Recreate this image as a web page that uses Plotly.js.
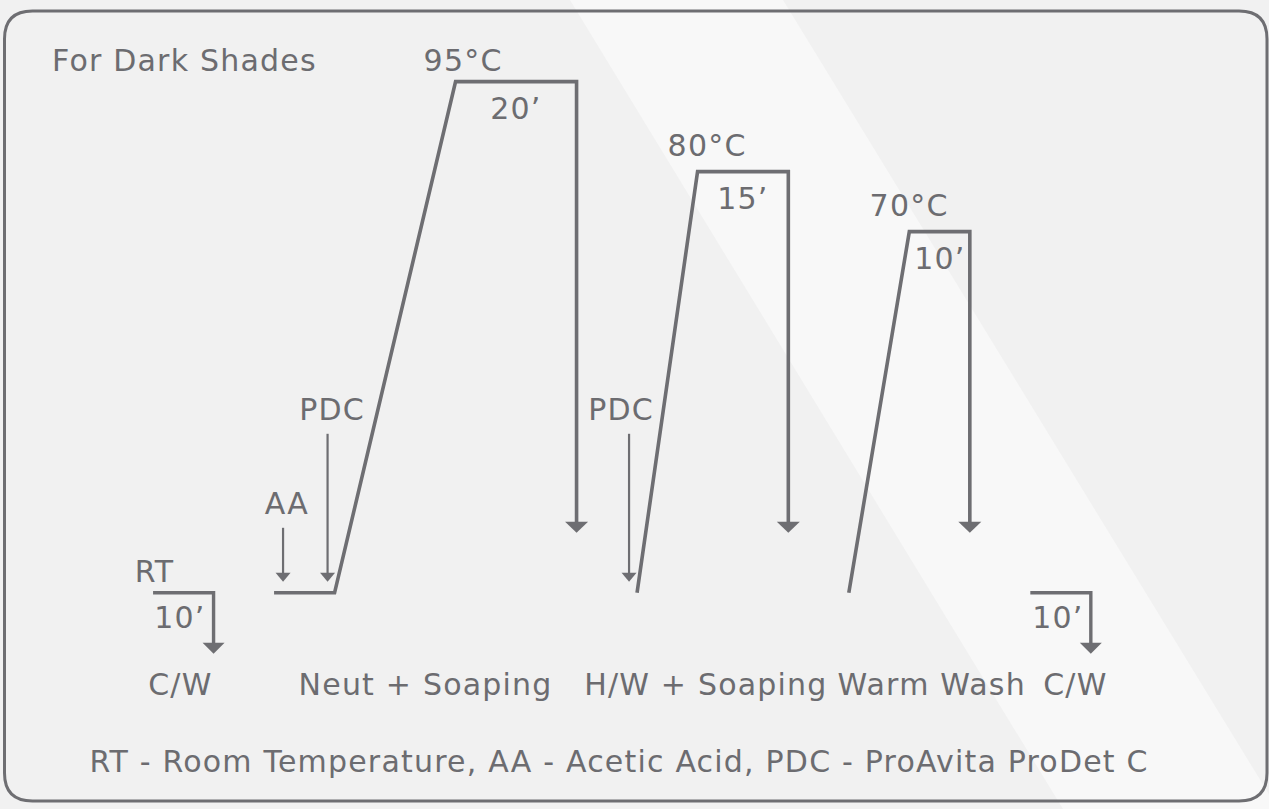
<!DOCTYPE html>
<html><head><meta charset="utf-8">
<script src="https://cdn.plot.ly/plotly-3.0.1.min.js"></script>
<style>html,body{margin:0;padding:0;background:#f1f1f1;overflow:hidden}#chart{width:1269px;height:809px;}
#chart text.annotation-text{letter-spacing:1.2px;}</style>
</head><body><div id="chart"></div>
<script>
// ---------------- data ----------------
const stageLabels   = ['C/W', 'Neut + Soaping', 'H/W + Soaping', 'Warm Wash', 'C/W'];
const holdTemps     = [95, 80, 70];          // °C
const holdMins      = [20, 15, 10];          // minutes at temperature
const rampMins      = [20, 10, 10];          // heating time, minutes
const coldWashMins  = [10, 10];              // RT washes, minutes
const neutBaseMins  = 10;                    // RT run before first ramp
const tempLabels    = ['95°C', '80°C', '70°C'];
const holdLabels    = ['20’', '15’', '10’'];
const coldWashLabels= ['10’', '10’'];
const dosingLabels  = ['AA', 'PDC', 'PDC'];
const titleText     = 'For Dark Shades';
const rtLabel       = 'RT';
const footnote      = 'RT - Room Temperature, AA - Acetic Acid, PDC - ProAvita ProDet C';

// ---------------- layout scale ----------------
const W = 1269, H = 809;
const PXM = 6.05;      // px per minute
const PXD = 6.0;       // px per °C
const X0 = 25.3;       // first wash start (min)
const GAP = 10;        // minutes between stages in the drawing
const RT_LEVEL = 9.8;  // level drawn for room temperature
const Y_TOP = 108.6;   // value at top edge
const COLOR = '#6e6e72';
const TEXT = '#6c6c70';
const FONT = 'DejaVu Sans';
const FS = 30;

const ux = p => p / PXM;            // px offset -> minutes
const uy = p => p / PXD;            // px offset -> °C

// ---------------- timeline ----------------
const cw1 = [X0, X0 + coldWashMins[0]];
const neutStart = cw1[1] + GAP;
const stages = [];
let t = neutStart + neutBaseMins;
for (let i = 0; i < holdTemps.length; i++) {
  const rs = t, hs = rs + rampMins[i], he = hs + holdMins[i];
  stages.push({rs, hs, he, T: holdTemps[i]});
  t = he + GAP;
}
const cw2 = [t, t + coldWashMins[1]];

const traces = [];
function line(xs, ys, w) {
  traces.push({x: xs, y: ys, mode: 'lines', line: {color: COLOR, width: w}, hoverinfo: 'skip', showlegend: false});
}
function head(x, yTip, wPx, hPx) {
  const dx = ux(wPx / 2), dy = uy(hPx);
  traces.push({x: [x - dx, x + dx, x, x - dx], y: [yTip + dy, yTip + dy, yTip, yTip + dy],
    mode: 'lines', fill: 'toself', fillcolor: COLOR, line: {width: 0, color: COLOR}, hoverinfo: 'skip', showlegend: false});
}

const dropTip = RT_LEVEL + uy(60);
const bigW = 23, bigH = 11, smW = 15, smH = 9;

stages.forEach((s, i) => {
  const xs = [], ys = [];
  if (i === 0) { xs.push(neutStart); ys.push(RT_LEVEL); }
  xs.push(s.rs, s.hs, s.he, s.he);
  ys.push(RT_LEVEL, s.T, s.T, dropTip + uy(bigH - 1));
  line(xs, ys, 3.6);
  head(s.he, dropTip, bigW, bigH);
});

const cwTip = RT_LEVEL - uy(61);
[cw1, cw2].forEach(c => {
  line([c[0], c[1], c[1]], [RT_LEVEL, RT_LEVEL, cwTip + uy(bigH - 1)], 3.4);
  head(c[1], cwTip, 22, bigH);
});

// dosing arrows (AA at neut start, PDC before each of first two ramps)
const doseX = [neutStart + ux(9), stages[0].rs - ux(7), stages[1].rs - ux(8)];
const doseTop = [RT_LEVEL + uy(65), RT_LEVEL + uy(159), RT_LEVEL + uy(159)];
const doseTip = RT_LEVEL + uy(11);
doseX.forEach((x, i) => {
  line([x, x], [doseTop[i], doseTip + uy(smH - 1)], 2.2);
  head(x, doseTip, smW, smH);
});

// ---------------- annotations ----------------
const ann = [];
function txt(text, x, y, xanchor) {
  ann.push({text, x, y, xref: 'x', yref: 'y', showarrow: false, xanchor: xanchor || 'center', yanchor: 'middle',
    font: {family: FONT, size: FS, color: TEXT}});
}
txt(titleText, ux(59), Y_TOP - uy(60), 'left');
const tdx = [7, 9, 0], tdy = [21, 26, 26];
stages.forEach((s, i) => {
  txt(tempLabels[i], s.hs + ux(tdx[i]), s.T + uy(tdy[i]));
  txt(holdLabels[i], (s.hs + s.he) / 2, s.T - uy(27));
});
txt(rtLabel, cw1[0] + ux(2), RT_LEVEL + uy(21));
[cw1, cw2].forEach((c, i) => txt(coldWashLabels[i], (c[0] + c[1]) / 2 - ux(3), RT_LEVEL - uy(25)));
doseX.forEach((x, i) => txt(dosingLabels[i], x + ux([4, 4, -8][i]), doseTop[i] + uy(24)));
const stageX = [(cw1[0] + cw1[1]) / 2 - ux(3), neutStart + ux(151), stages[1].rs + ux(69), stages[2].rs + ux(83), cw2[1] - ux(15)];
const stageY = RT_LEVEL - uy(92);
stageLabels.forEach((l, i) => txt(l, stageX[i], stageY));
txt(footnote, ux(619), Y_TOP - uy(761));

// ---------------- shapes ----------------
const px = v => v / W, py = v => 1 - v / H;
const L = 4.5, T = 11, R = 1267, B = 801, r = 28;
const border = `M ${px(L + r)} ${py(T)} L ${px(R - r)} ${py(T)} Q ${px(R)} ${py(T)} ${px(R)} ${py(T + r)} ` +
  `L ${px(R)} ${py(B - r)} Q ${px(R)} ${py(B)} ${px(R - r)} ${py(B)} L ${px(L + r)} ${py(B)} ` +
  `Q ${px(L)} ${py(B)} ${px(L)} ${py(B - r)} L ${px(L)} ${py(T + r)} Q ${px(L)} ${py(T)} ${px(L + r)} ${py(T)} Z`;
const stripe = `M ${px(570)} ${py(0)} L ${px(783)} ${py(0)} L ${px(1278)} ${py(809)} L ${px(1063)} ${py(809)} Z`;

const layout = {
  width: W, height: H, margin: {l: 0, r: 0, t: 0, b: 0, pad: 0},
  paper_bgcolor: '#f1f1f1', plot_bgcolor: 'rgba(0,0,0,0)',
  xaxis: {range: [0, W / PXM], visible: false, fixedrange: true},
  yaxis: {range: [Y_TOP - H / PXD, Y_TOP], visible: false, fixedrange: true},
  showlegend: false,
  shapes: [
    {type: 'path', path: stripe, xref: 'paper', yref: 'paper', fillcolor: '#f8f8f8', line: {width: 0}, layer: 'below'},
    {type: 'path', path: border, xref: 'paper', yref: 'paper', fillcolor: 'rgba(0,0,0,0)', line: {width: 3, color: COLOR}, layer: 'below'}
  ],
  annotations: ann
};
Plotly.newPlot('chart', traces, layout, {staticPlot: true, displayModeBar: false});
</script></body></html>
